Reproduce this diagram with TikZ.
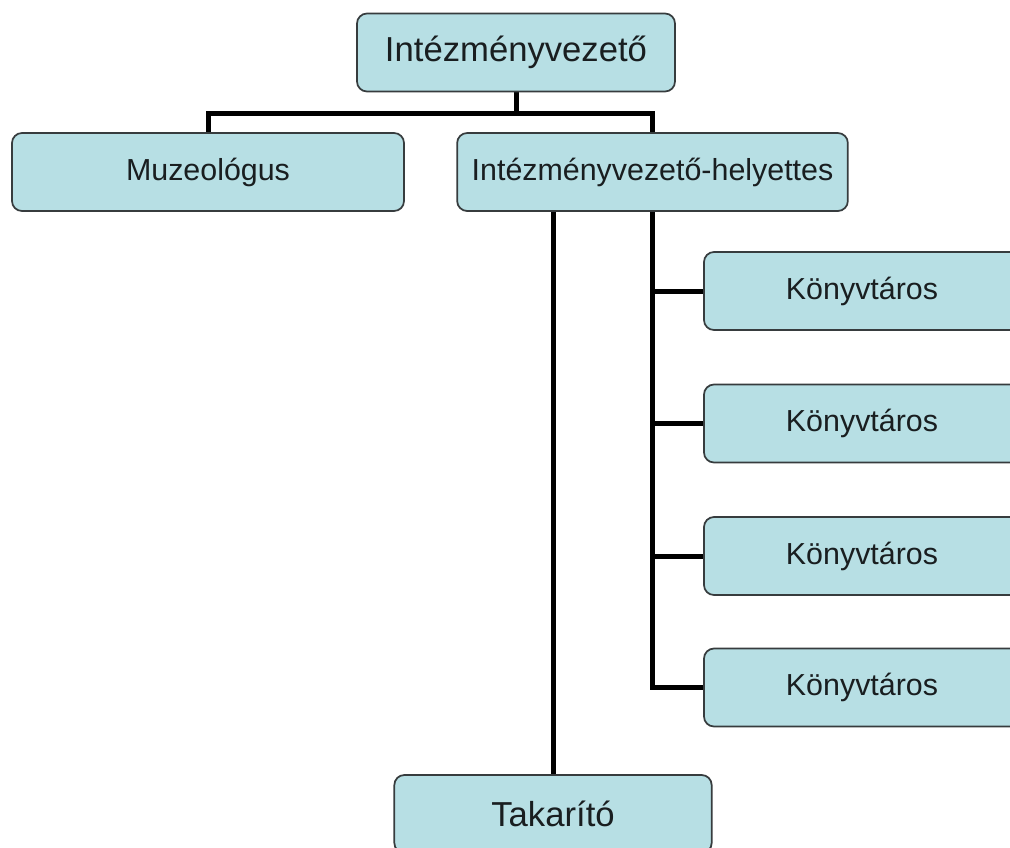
\documentclass[tikz,border=0pt]{standalone}
\usepackage{fontspec}
\setmainfont{Liberation Sans}
\usetikzlibrary{backgrounds}
\definecolor{boxfill}{RGB}{183,223,228}
\definecolor{boxline}{RGB}{55,60,62}
\definecolor{txt}{RGB}{25,30,32}
\begin{document}
\begin{tikzpicture}[x=0.75pt,y=-0.75pt,
  box/.style={draw=boxline,line width=1.3pt,fill=boxfill,rounded corners=7.5pt,
    text=txt,inner sep=0pt,minimum height=58.5pt},
  big/.style={font=\fontsize{26}{30}\selectfont},
  small/.style={font=\fontsize{22.8}{27}\selectfont},
  conn/.style={draw=black,line width=3.75pt}]
\useasboundingbox (0,0) rectangle (1010,847);
\clip (0,0) rectangle (1010,847);
\node[box,big,minimum width=238.5pt] (top) at (516,52.5) {Intézményvezető};
\node[box,small,minimum width=294pt] (muz) at (208,172) {Muzeológus};
\node[box,small,minimum width=293pt] (hel) at (652.5,172) {Intézményvezető-helyettes};
\node[box,small,minimum width=237pt] (k1) at (862,291) {Könyvtáros};
\node[box,small,minimum width=237pt] (k2) at (862,423.5) {Könyvtáros};
\node[box,small,minimum width=237pt] (k3) at (862,556) {Könyvtáros};
\node[box,small,minimum width=237pt] (k4) at (862,687.5) {Könyvtáros};
\node[box,big,minimum width=238pt] (tak) at (553,814) {Takarító};
\coordinate (bus) at (516,113);
\coordinate (lt) at (553,211);
\begin{pgfonlayer}{background}
\fill[white] (0,0) rectangle (1010,847);
\draw[conn] (top.south) -- (bus);
\draw[conn] (bus) -| (muz.north);
\draw[conn] (bus) -| (hel.north);
\draw[conn] (lt) -- (tak.north -| lt);
\draw[conn] (hel.south) |- (k4.west);
\draw[conn] (k1.west) -- (k1.west -| hel.south);
\draw[conn] (k2.west) -- (k2.west -| hel.south);
\draw[conn] (k3.west) -- (k3.west -| hel.south);
\end{pgfonlayer}
\end{tikzpicture}
\end{document}
